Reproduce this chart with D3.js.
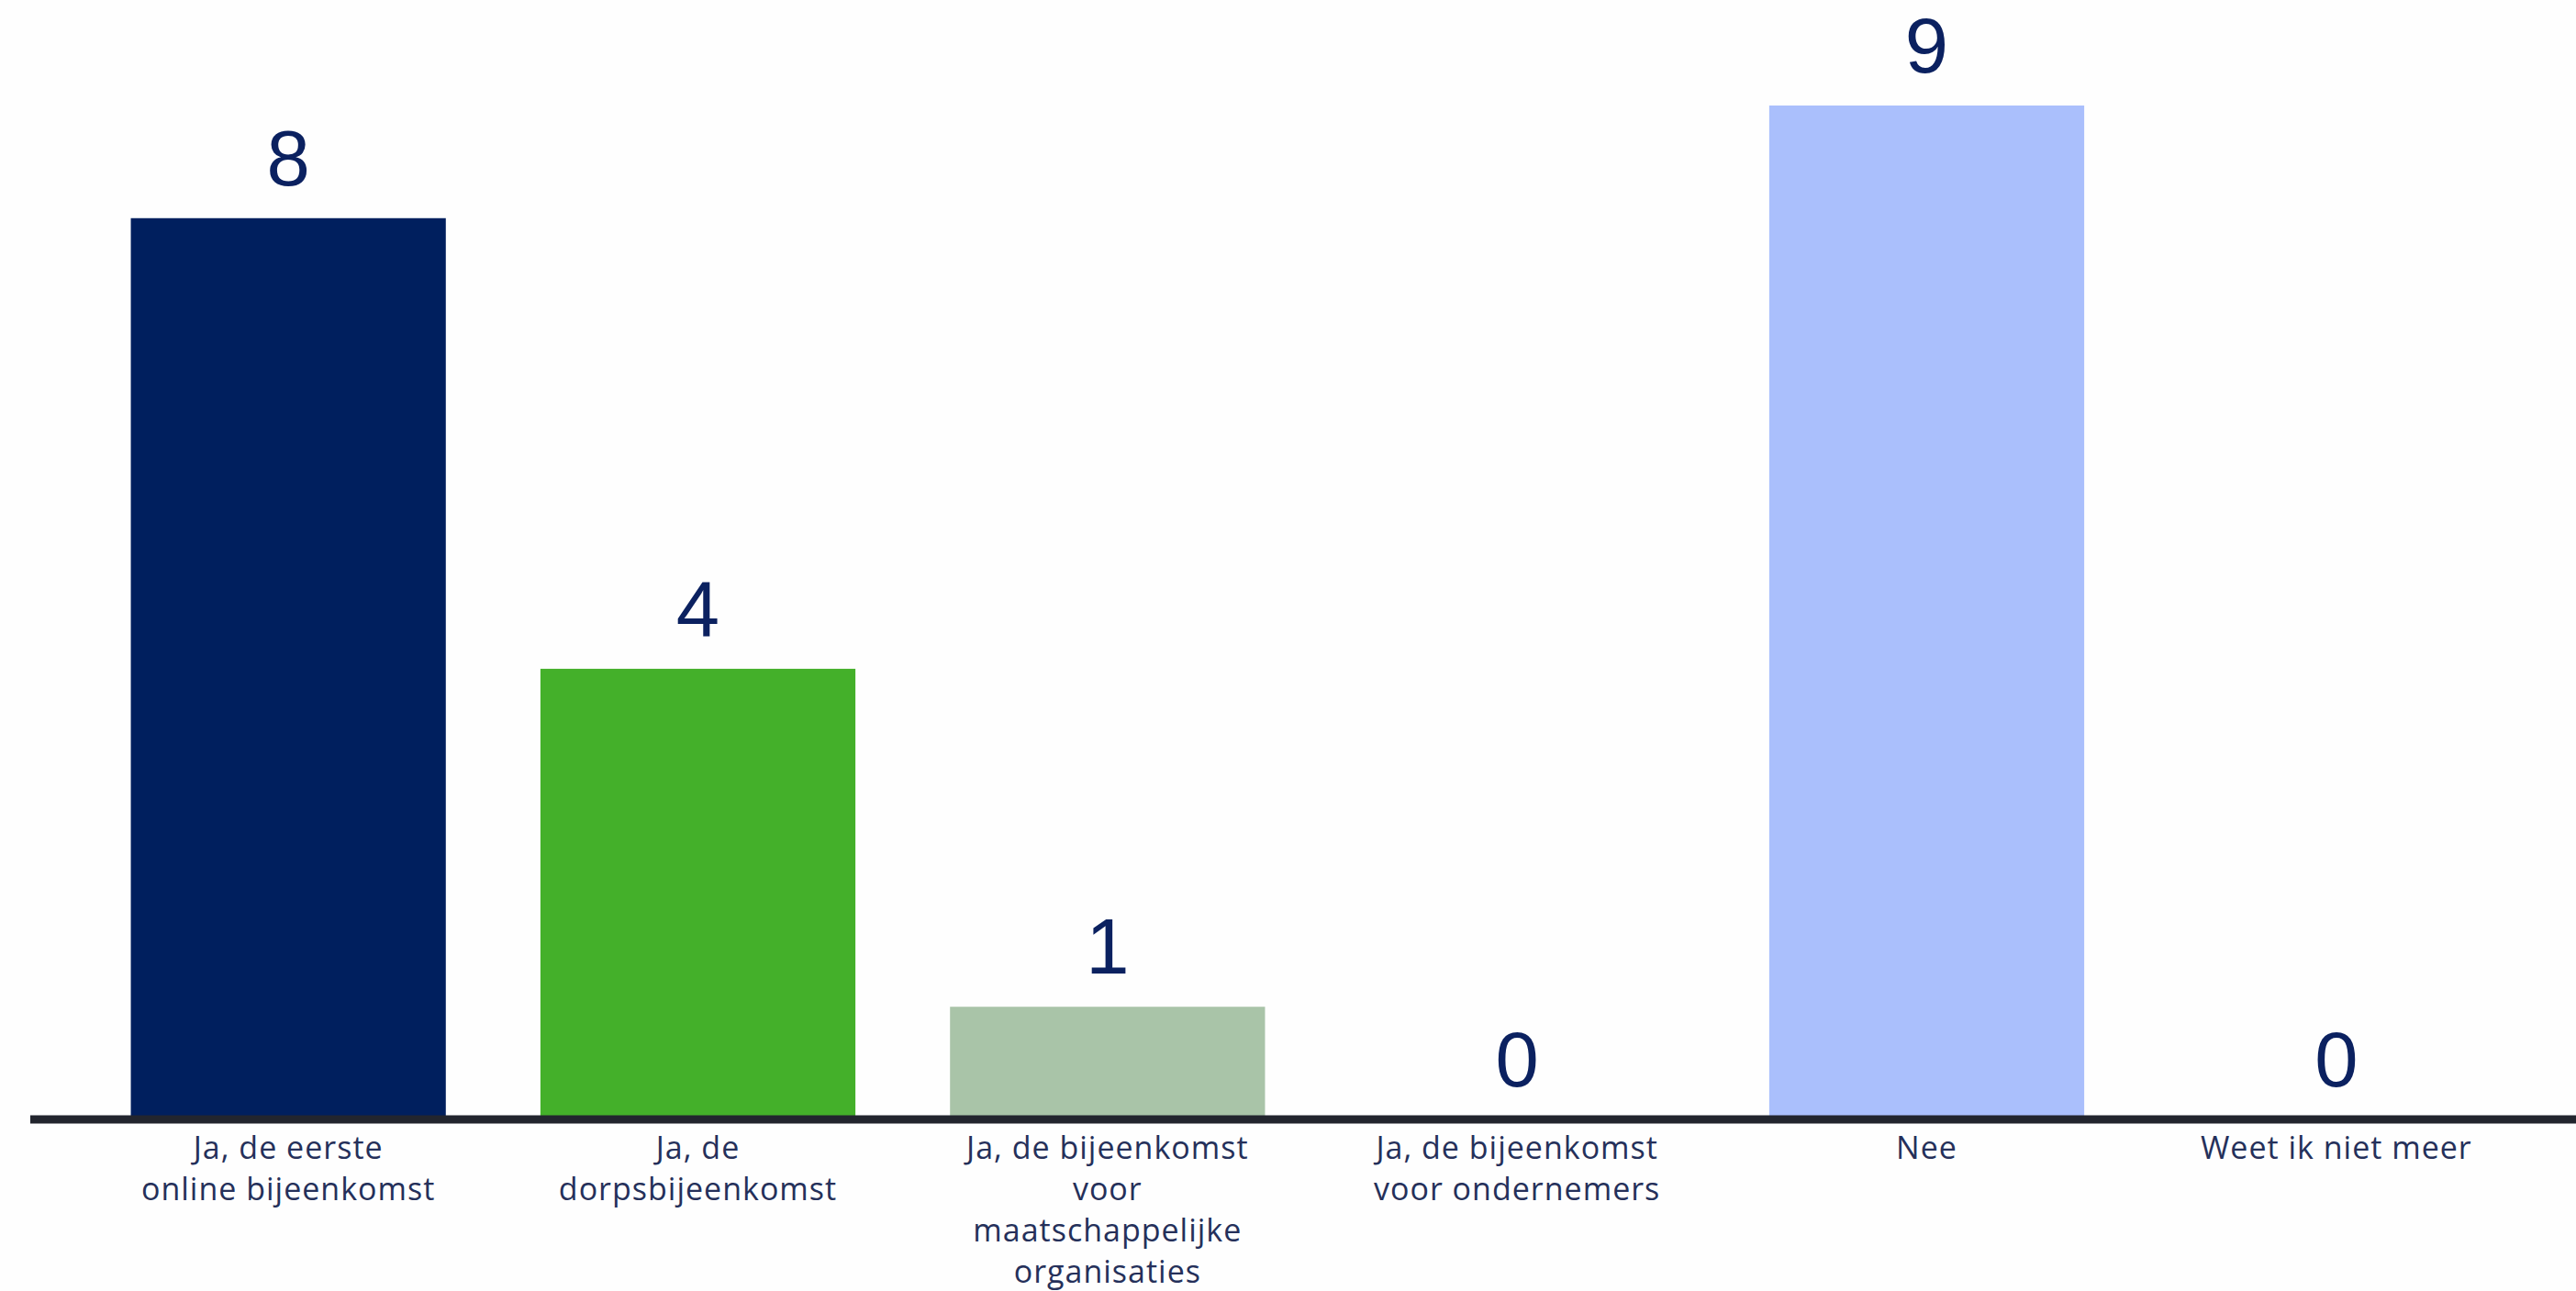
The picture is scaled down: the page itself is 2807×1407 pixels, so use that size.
<!DOCTYPE html>
<html>
<head>
<meta charset="utf-8">
<script src="https://cdn.jsdelivr.net/npm/d3@7"></script>
<style>
  html, body { margin: 0; padding: 0; background: #fefefe; }
  svg { display: block; }
</style>
</head>
<body>
<svg id="chart" width="2807" height="1407"></svg>
<script>
const categories = [
  "Ja, de eerste online bijeenkomst",
  "Ja, de dorpsbijeenkomst",
  "Ja, de bijeenkomst voor maatschappelijke organisaties",
  "Ja, de bijeenkomst voor ondernemers",
  "Nee",
  "Weet ik niet meer"
];
const labelLines = [
  ["Ja, de eerste", "online bijeenkomst"],
  ["Ja, de", "dorpsbijeenkomst"],
  ["Ja, de bijeenkomst", "voor", "maatschappelijke", "organisaties"],
  ["Ja, de bijeenkomst", "voor ondernemers"],
  ["Nee"],
  ["Weet ik niet meer"]
];
const values = [8, 4, 1, 0, 9, 0];
const colors = ["#001f5e", "#44b02a", "#a9c4a8", "#aabffc", "#aabffc", "#aabffc"];

const svg = d3.select("#chart");
const W = 2807, H = 1407;

const x = d3.scaleBand()
  .domain(categories)
  .range([91, 2769])
  .paddingInner(0.231)
  .paddingOuter(0.1155);

const y = d3.scaleLinear()
  .domain([0, 9])
  .range([1220, 115]);

// bars
svg.append("g").selectAll("rect")
  .data(categories)
  .join("rect")
  .attr("x", d => x(d))
  .attr("width", x.bandwidth())
  .attr("y", (d, i) => y(values[i]))
  .attr("height", (d, i) => y(0) - y(values[i]))
  .attr("fill", (d, i) => colors[i]);

// baseline
svg.append("line")
  .attr("x1", 33).attr("x2", W)
  .attr("y1", y(0)).attr("y2", y(0))
  .attr("stroke", "#22252e")
  .attr("stroke-width", 9);

// value labels
svg.append("g").selectAll("text")
  .data(categories)
  .join("text")
  .attr("x", d => x(d) + x.bandwidth() / 2)
  .attr("y", (d, i) => y(values[i]) - 36)
  .attr("text-anchor", "middle")
  .attr("font-family", "'Liberation Sans', Arial, sans-serif")
  .attr("font-size", 85)
  .attr("fill", "#0b2160")
  .text((d, i) => values[i]);

// category labels
const lab = svg.append("g").selectAll("text")
  .data(categories)
  .join("text")
  .attr("x", d => x(d) + x.bandwidth() / 2)
  .attr("y", 1263)
  .attr("text-anchor", "middle")
  .attr("font-family", "'Open Sans', sans-serif")
  .attr("font-size", 34)
  .attr("font-weight", 500)
  .attr("letter-spacing", 1.0)
  .attr("fill", "#25305a");

lab.each(function(d, i) {
  const t = d3.select(this);
  labelLines[i].forEach((line, k) => {
    t.append("tspan")
      .attr("x", x(d) + x.bandwidth() / 2)
      .attr("dy", k === 0 ? 0 : 45)
      .text(line);
  });
});
</script>
</body>
</html>
